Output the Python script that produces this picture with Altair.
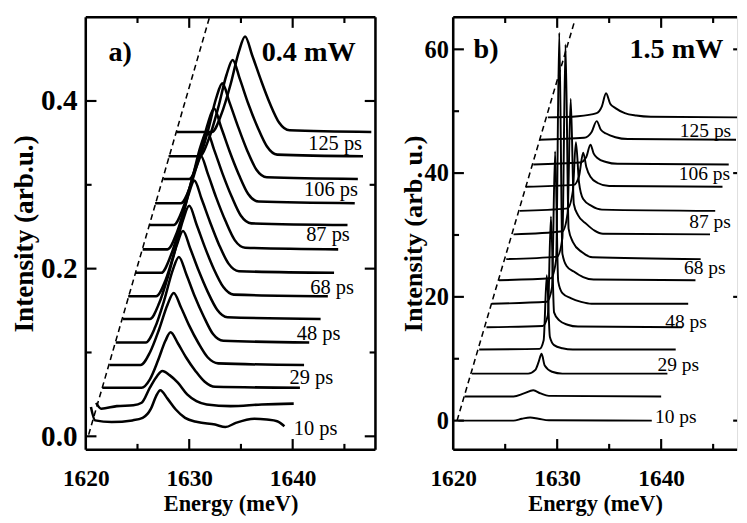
import altair as alt
import pandas as pd

FONT = "Liberation Serif"

# ---------------- panel a (0.4 mW) ----------------
a_c00 = [(1620.5,.035),(1620.9,.019),(1622.5,.017),(1624.5,.019),(1625.5,.022),(1626.3,.033),(1626.8,.048),(1627.2,.055),(1627.9,.045),(1628.7,.032),(1629.6,.022),(1630.8,.017),(1632.5,.014),(1633.5,.011),(1634.5,.016),(1636.3,.021),(1637.5,.020),(1638.5,.018),(1639.2,.012)]
a_c01 = [(1621.0,.040),(1621.5,.033),(1623.0,.036),(1624.6,.037),(1625.4,.040),(1626.2,.058),(1626.9,.072),(1627.4,.078),(1628.1,.073),(1628.9,.064),(1629.8,.050),(1630.7,.042),(1631.7,.038),(1634.0,.036),(1637.0,.038),(1640.1,.039)]
a_c02 = [(1621.6,.058),(1625.4,.058),(1626.2,.068),(1627.0,.091),(1627.7,.114),(1628.2,.124),(1628.9,.111),(1629.7,.094),(1630.6,.078),(1631.5,.065),(1632.5,.059),(1640.7,.058)]
a_c03 = [(1622.3,.085),(1625.3,.085),(1626.2,.100),(1627.1,.128),(1627.9,.157),(1628.5,.171),(1629.2,.154),(1630.0,.132),(1630.9,.111),(1631.8,.094),(1632.8,.087),(1641.1,.085)]
a_c04 = [(1622.9,.112),(1625.8,.112),(1626.7,.130),(1627.6,.163),(1628.4,.198),(1629.0,.214),(1629.7,.194),(1630.5,.168),(1631.4,.143),(1632.3,.122),(1633.3,.114),(1641.6,.112)]
a_c05 = [(1623.6,.140),(1626.2,.140),(1627.1,.159),(1628.0,.193),(1628.8,.228),(1629.4,.245),(1630.1,.224),(1630.9,.198),(1631.8,.172),(1632.7,.151),(1633.7,.142),(1642.7,.140)]
a_c06 = [(1624.1,.167),(1626.8,.167),(1627.7,.186),(1628.6,.221),(1629.4,.258),(1630.0,.275),(1630.7,.253),(1631.5,.226),(1632.4,.199),(1633.3,.178),(1634.3,.169),(1643.4,.167)]
a_c07 = [(1624.8,.195),(1627.3,.195),(1628.2,.215),(1629.1,.250),(1629.9,.287),(1630.5,.305),(1631.2,.283),(1632.0,.256),(1632.9,.228),(1633.8,.206),(1634.8,.197),(1644.0,.195)]
a_c08 = [(1625.5,.223),(1627.9,.223),(1628.8,.243),(1629.7,.279),(1630.5,.317),(1631.1,.335),(1631.8,.313),(1632.6,.285),(1633.5,.257),(1634.4,.234),(1635.4,.225),(1644.4,.223)]
a_c09 = [(1626.1,.252),(1628.5,.252),(1629.4,.272),(1630.3,.308),(1631.1,.346),(1631.7,.364),(1632.4,.342),(1633.2,.314),(1634.1,.286),(1635.0,.263),(1636.0,.254),(1645.3,.252)]
a_c10 = [(1626.7,.278),(1629.2,.278),(1630.1,.298),(1631.0,.335),(1631.8,.373),(1632.4,.391),(1633.1,.368),(1633.9,.340),(1634.8,.312),(1635.7,.289),(1636.7,.280),(1646.0,.278)]
a_c11 = [(1627.5,.307),(1630.0,.307),(1630.9,.328),(1631.8,.364),(1632.6,.403),(1633.2,.421),(1633.9,.398),(1634.7,.370),(1635.6,.341),(1636.5,.318),(1637.5,.309),(1646.3,.307)]
a_c12 = [(1628.0,.334),(1631.0,.334),(1631.9,.355),(1632.8,.392),(1633.6,.431),(1634.2,.449),(1634.9,.426),(1635.7,.397),(1636.6,.369),(1637.5,.346),(1638.5,.336),(1646.8,.334)]
a_c13 = [(1628.8,.363),(1632.2,.363),(1633.1,.384),(1634.0,.420),(1634.8,.459),(1635.4,.477),(1636.1,.454),(1636.9,.426),(1637.8,.397),(1638.7,.374),(1639.7,.365),(1647.6,.363)]
a_curves = [a_c00,a_c01,a_c02,a_c03,a_c04,a_c05,a_c06,a_c07,a_c08,a_c09,a_c10,a_c11,a_c12,a_c13]

a_labels = ["10 ps","29 ps","48 ps","68 ps","87 ps","106 ps","125 ps"]
a_label_E = [1640.1,1639.7,1640.4,1641.7,1641.3,1641.1,1641.5]
a_label_I = [0.009,0.069,0.122,0.177,0.240,0.294,0.348]
a_dash_E = [1620.28,1632.08]
a_dash_I = [0.002,0.505]

# ---------------- panel b (1.5 mW) ----------------
b_c00 = [(1620.5,0),(1625.8,0),(1626.6,0.3),(1627.4,0.5),(1628.2,0.3),(1629.2,0.05),(1639.1,0)]
b_c01 = [(1621.1,3.9),(1625.8,3.9),(1626.8,4.4),(1627.7,4.9),(1628.4,4.4),(1629.2,4.0),(1640.0,3.9)]
b_c02 = [(1621.8,7.6),(1627.2,7.6),(1627.9,8.2),(1628.2,9.4),(1628.5,10.8),(1628.8,8.9),(1629.5,7.9),(1630.5,7.6),(1640.6,7.6)]
b_c03 = [(1622.5,11.5),(1628.3,11.6),(1628.7,13.0),(1629.0,23.5),(1629.3,13.5),(1629.7,12.2),(1630.5,11.7),(1631.5,11.5),(1641.4,11.5)]
b_c04 = [(1623.2,15.1),(1628.6,15.3),(1629.1,17.0),(1629.4,33.0),(1629.7,17.5),(1630.2,16.2),(1631.0,15.5),(1632.0,15.2),(1642.0,15.1)]
b_c05 = [(1623.7,18.9),(1629.0,19.2),(1629.5,21.5),(1629.8,43.5),(1630.1,22.5),(1630.5,20.6),(1631.3,19.8),(1632.3,19.2),(1633.3,18.9),(1642.6,18.9)]
b_c06 = [(1624.4,22.7),(1629.4,23.0),(1629.9,26.0),(1630.2,62.7),(1630.5,27.0),(1630.9,25.0),(1631.6,24.1),(1632.5,23.2),(1633.5,22.8),(1643.3,22.7)]
b_c07 = [(1625.1,26.1),(1630.0,26.5),(1630.5,29.5),(1630.8,60.8),(1631.1,31.0),(1631.5,28.9),(1632.4,27.2),(1633.4,26.4),(1643.8,26.1)]
b_c08 = [(1625.8,30.1),(1630.5,30.6),(1631.0,33.5),(1631.3,52.0),(1631.6,35.0),(1632.0,33.2),(1632.8,31.8),(1633.6,30.7),(1634.4,30.2),(1644.7,30.1)]
b_c09 = [(1626.4,33.9),(1631.0,34.3),(1631.5,37.0),(1631.8,45.0),(1632.1,38.5),(1632.5,35.8),(1633.3,34.7),(1634.3,34.1),(1645.2,33.9)]
b_c10 = [(1627.0,37.8),(1631.6,38.1),(1632.1,39.5),(1632.5,43.3),(1632.8,41.0),(1633.2,39.4),(1633.9,38.4),(1635.0,37.9),(1645.9,37.8)]
b_c11 = [(1627.7,41.4),(1632.2,41.7),(1632.8,42.6),(1633.2,44.6),(1633.5,43.2),(1633.9,42.4),(1634.7,41.8),(1635.8,41.5),(1646.5,41.4)]
b_c12 = [(1628.3,45.4),(1632.6,45.7),(1633.3,46.6),(1633.8,48.4),(1634.2,47.0),(1634.7,46.4),(1635.6,45.8),(1636.8,45.5),(1647.2,45.4)]
b_c13 = [(1629.1,49.0),(1632.0,49.2),(1633.8,49.7),(1634.3,50.8),(1634.7,52.9),(1635.1,51.2),(1635.6,50.5),(1636.5,49.7),(1637.6,49.3),(1639.0,49.1),(1648.0,49.0)]
b_curves = [b_c00,b_c01,b_c02,b_c03,b_c04,b_c05,b_c06,b_c07,b_c08,b_c09,b_c10,b_c11,b_c12,b_c13]

b_labels = ["10 ps","29 ps","48 ps","68 ps","87 ps","106 ps","125 ps"]
b_label_E = [1639.4,1639.65,1640.4,1642.2,1642.7,1641.7,1641.8]
b_label_I = [0.5,9.0,15.9,24.6,32.0,39.8,46.8]
b_dash_E = [1620.37,1631.68]
b_dash_I = [0.0,64.6]

# axis ticks
x_major = [1620, 1630, 1640]
x_minor = [1625, 1635, 1645]
a_y_major = [0.0, 0.2, 0.4]
a_y_minor = [0.1, 0.3]
b_y_major = [0, 20, 40, 60]
b_y_minor = [10, 30, 50]


def curves_df(curves):
    rows = []
    for ci, pts in enumerate(curves):
        for k, (e, i) in enumerate(pts):
            rows.append({"curve": ci, "k": k, "E": e, "I": i})
    return pd.DataFrame(rows)


def frame_and_ticks(W, H, xmaj, xmin, ymaj, ymin, right_frame=True):
    layers = []
    one = pd.DataFrame({"d": [0]})
    fr = alt.Chart(one).mark_rule(color="black", strokeWidth=2.6)
    layers.append(fr.encode(x=alt.value(0), x2=alt.value(W), y=alt.value(0)))
    layers.append(fr.encode(x=alt.value(0), x2=alt.value(W), y=alt.value(H)))
    layers.append(fr.encode(x=alt.value(0), y=alt.value(0), y2=alt.value(H)))
    if right_frame:
        layers.append(fr.encode(x=alt.value(W), y=alt.value(0), y2=alt.value(H)))
    for vals, L in ((xmaj, 11), (xmin, 6)):
        d = alt.Chart(pd.DataFrame({"E": vals})).mark_rule(color="black", strokeWidth=2.2)
        layers.append(d.encode(x="E:Q", y=alt.value(H), y2=alt.value(H - L)))
        layers.append(d.encode(x="E:Q", y=alt.value(0), y2=alt.value(L)))
    for vals, L in ((ymaj, 11), (ymin, 6)):
        d = alt.Chart(pd.DataFrame({"I": vals})).mark_rule(color="black", strokeWidth=2.2)
        layers.append(d.encode(y="I:Q", x=alt.value(0), x2=alt.value(L)))
        if right_frame:
            layers.append(d.encode(y="I:Q", x=alt.value(W - L), x2=alt.value(W)))
        elif L > 8:
            layers.append(d.encode(y="I:Q", x=alt.value(W - 4), x2=alt.value(W)))
    return layers


def panel(curves, dashE, dashI, labels, labE, labI, tag, power, tagE, powE, textI,
          xdom, ydom, ymaj, ymin, yfmt, ytitle, W, H, lw, lab_pad_y, ylab_size,
          title_pad_y, title_size, ps_size, right_frame):
    xs = alt.Scale(domain=xdom, nice=False, zero=False)
    ys = alt.Scale(domain=ydom, nice=False, zero=False)
    xax = alt.Axis(values=x_major, format="d", ticks=False, tickSize=0, domain=False, grid=False,
                   labelFlush=False, labelFont=FONT, labelFontSize=24, labelFontWeight="bold",
                   labelColor="black", labelPadding=18, title="Energy (meV)", titleFont=FONT,
                   titleFontSize=23, titleFontWeight="bold", titleColor="black", titlePadding=3)
    yax = alt.Axis(values=ymaj, format=yfmt, ticks=False, tickSize=0, domain=False, grid=False,
                   labelFont=FONT, labelFontSize=ylab_size, labelFontWeight="bold",
                   labelColor="black", labelPadding=lab_pad_y, title=ytitle, titleFont=FONT,
                   titleFontSize=title_size, titleFontWeight="bold", titleColor="black",
                   titlePadding=title_pad_y)
    lines = alt.Chart(curves_df(curves)).mark_line(
        color="black", strokeWidth=lw, interpolate="monotone", clip=True, strokeJoin="round"
    ).encode(
        x=alt.X("E:Q", scale=xs, axis=xax),
        y=alt.Y("I:Q", scale=ys, axis=yax),
        detail="curve:N",
        order="k:Q",
    )
    dash = alt.Chart(pd.DataFrame({"E": dashE, "I": dashI})).mark_line(
        color="black", strokeWidth=1.6, strokeDash=[6, 4], clip=True
    ).encode(x="E:Q", y="I:Q")
    labs = alt.Chart(pd.DataFrame({"E": labE, "I": labI, "t": labels})).mark_text(
        font=FONT, fontSize=ps_size, align="left", baseline="middle", color="black"
    ).encode(x="E:Q", y="I:Q", text="t:N")
    tagdf = pd.DataFrame({"E": [tagE, powE], "I": [textI, textI], "t": [tag, power]})
    tags = alt.Chart(tagdf).mark_text(
        font=FONT, fontSize=29, fontWeight="bold", align="left", baseline="middle", color="black"
    ).encode(x="E:Q", y="I:Q", text="t:N")
    layers = [lines, dash, labs, tags] + frame_and_ticks(
        W, H, x_major[1:], x_minor, ymaj, ymin, right_frame=right_frame)
    return alt.layer(*layers).properties(width=W, height=H)


pa = panel(a_curves, a_dash_E, a_dash_I, a_labels, a_label_E, a_label_I, "a)", "0.4 mW",
           1622.2, 1637.0, 0.458, [1620, 1648], [-0.016, 0.5], a_y_major, a_y_minor, ".1f",
           "Intensity (arb.u.)", 298, 445, 2.6, 9, 30, 2, 28, 21, True)
pb = panel(b_curves, b_dash_E, b_dash_I, b_labels, b_label_E, b_label_I, "b)", "1.5 mW",
           1621.95, 1636.95, 60.0, [1620, 1647.3], [-4.7, 65.2], b_y_major, b_y_minor, "d",
           "Intensity (arb. u.)", 292, 445, 2.0, 5, 25, -3, 27, 20, False)

chart = alt.hconcat(pa, pb, spacing=80, bounds="flush").properties(
    padding={"left": 3, "top": 0, "right": 0, "bottom": 0}
).configure_view(stroke=None).configure(background="white")

chart.save("out.html", embed_options={"renderer": "svg", "actions": False})
